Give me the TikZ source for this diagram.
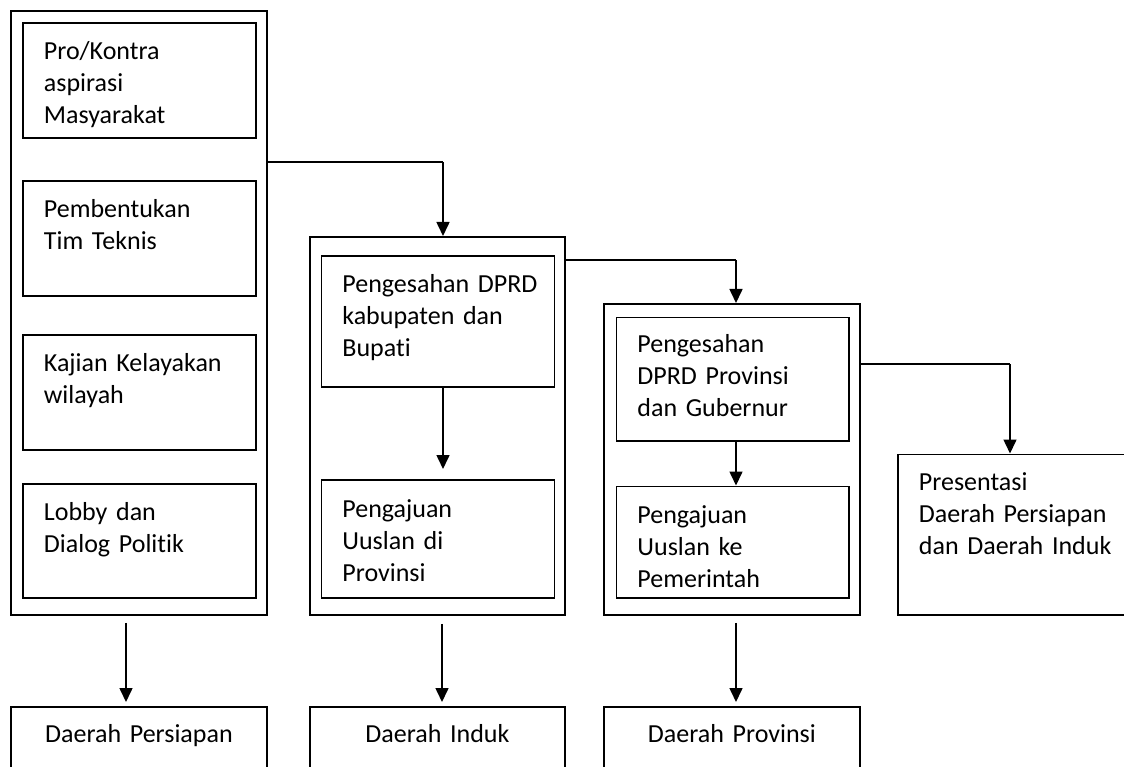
\documentclass[tikz,border=0pt]{standalone}
\usepackage{fontspec}
\setmainfont[Ligatures=NoCommon, WordSpace=0.75]{Carlito}
\usetikzlibrary{arrows.meta}
\begin{document}
\begin{tikzpicture}[x=1pt,y=-1pt,
  frame/.style={draw, line width=1.8pt, inner sep=0pt, anchor=north west},
  tbox/.style={draw, line width=1.8pt, inner xsep=21pt, inner ysep=0pt,
    anchor=north west, align=left, text width=191pt,
    font=\fontsize{26}{32}\selectfont},
  endbox/.style={draw, line width=1.8pt, inner sep=0pt, anchor=north west,
    align=center, text width=256pt, text height=36pt, text depth=44pt,
    font=\fontsize{26}{32}\selectfont},
  arr/.style={line width=1.6pt, -{Triangle[width=13pt,length=14pt]}},
  link/.style={line width=1.1pt}
]
\useasboundingbox (0,0) rectangle (1124,767);
\clip (0,0) rectangle (1124,767);

% column 1
\node[frame, minimum width=256pt, minimum height=604pt] (o1) at (10,10) {};
\node[tbox, text height=37pt, text depth=78pt] (a1) at (22,22) {Pro/Kontra\\aspirasi\\Masyarakat};
\node[tbox, text height=37pt, text depth=78pt] (b1) at (22,180) {Pembentukan\\Tim~Teknis};
\node[tbox, text height=37pt, text depth=78pt] (c1) at (22,334) {Kajian~Kelayakan\\wilayah};
\node[tbox, text height=37pt, text depth=77pt] (e1) at (22,483) {Lobby~dan\\Dialog~Politik};

% column 2
\node[frame, minimum width=255pt, minimum height=378pt] (o2) at (309,236) {};
\node[tbox, text height=36pt, text depth=94.5pt] (a2) at (320.5,255.5) {Pengesahan~DPRD\\kabupaten~dan\\Bupati};
\node[tbox, text height=37.5pt, text depth=80.5pt] (b2) at (320.5,479) {Pengajuan\\Uuslan~di\\Provinsi};

% column 3
\node[frame, minimum width=256pt, minimum height=311pt] (o3) at (603,303) {};
\node[tbox, text width=190.5pt, text height=35.5pt, text depth=88pt] (a3) at (615.5,316.5) {Pengesahan\\DPRD~Provinsi\\dan~Gubernur};
\node[tbox, text width=190.5pt, text height=37.5pt, text depth=74pt] (b3) at (615.5,485.5) {Pengajuan\\Uuslan~ke\\Pemerintah};

% column 4
\node[tbox, text width=208pt, text height=36.5pt, text depth=124pt] (p4) at (897,453.5) {Presentasi\\Daerah~Persiapan\\dan~Daerah~Induk};

% bottom boxes
\node[endbox] (d1) at (10,706) {Daerah Persiapan};
\node[endbox, text width=255pt] (d2) at (309,706) {Daerah Induk};
\node[endbox] (d3) at (603,706) {Daerah Provinsi};

% connectors
\coordinate (k1) at (443,162);
\coordinate (k2) at (736,260);
\coordinate (k3) at (1010,364);
\coordinate (x1) at (126,0);
\coordinate (x2) at (442,0);
\coordinate (x3) at (736,0);

\draw[link] (k1 -| o1.east) -- (k1);
\draw[arr] (k1) -- (k1 |- o2.north);
\draw[link] (k2 -| o2.east) -- (k2);
\draw[arr] (k2) -- (k2 |- o3.north);
\draw[link] (k3 -| o3.east) -- (k3);
\draw[arr] (k3) -- (k3 |- p4.north);

\draw[arr, shorten >=10pt] (a2.south -| k1) -- (b2.north -| k1);
\draw[arr] (a3.south -| k2) -- (b3.north -| k2);

\draw[arr, shorten <=7pt, shorten >=4pt] (o1.south -| x1) -- (d1.north -| x1);
\draw[arr, shorten <=8pt, shorten >=4pt] (o2.south -| x2) -- (d2.north -| x2);
\draw[arr, shorten <=7pt, shorten >=4pt] (o3.south -| x3) -- (d3.north -| x3);
\end{tikzpicture}
\end{document}
